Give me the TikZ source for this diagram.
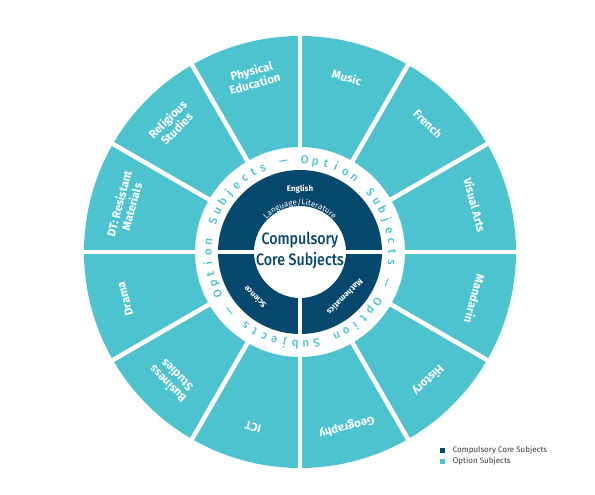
\documentclass[tikz,border=0pt]{standalone}
\usepackage{fontspec}
\setmainfont{Fira Sans}
\newfontfamily\medfont{Fira Sans Medium}
\newfontfamily\centrefont[FakeStretch=0.86]{Fira Sans Medium}
\usepackage{tikz}
\usetikzlibrary{positioning}
\usetikzlibrary{decorations.text}

\definecolor{coreblue}{HTML}{05476D}
\definecolor{optteal}{HTML}{4DC3CF}
\definecolor{keygray}{HTML}{3A3A3A}

\begin{document}
\begin{tikzpicture}[x=1pt, y=1pt,
    optlabel/.style={text=white, font=\bfseries\fontsize{11.5}{13}\selectfont, align=center},
    corelabel/.style={text=white, font=\bfseries\fontsize{8}{9}\selectfont},
    ringletter/.style={text=optteal, font=\medfont\fontsize{11.5}{12}\selectfont, anchor=base, inner sep=0pt},
    gap/.style={white, line width=4.5pt},
    keybox/.style={minimum size=5pt, inner sep=0pt},
    keytext/.style={text=keygray, font=\fontsize{8}{9}\selectfont, inner sep=0pt}]
    \useasboundingbox (-300,-243) rectangle (295,252);

    % option subjects: twelve sectors
    \foreach \i [evaluate=\i as \a using \i*30, evaluate=\i as \b using \i*30+30] in {0,...,11}
        \fill[optteal] (\a:105) arc[start angle=\a, end angle=\b, radius=105]
            -- (\b:216) arc[start angle=\b, end angle=\a, radius=216] -- cycle;
    \foreach \a in {0,30,...,330}
        \draw[gap] (\a:100) -- (\a:220);

    % compulsory core ring
    \fill[coreblue, even odd rule] (0,0) circle (82) (0,0) circle (46);
    \draw[gap] (-86,0) -- (86,0);
    \draw[gap] (0,0) -- (0,-86);

    \foreach \a/\txt/\nm in {75/Music/music, 45/French/french, 15/Visual Arts/visual,
        -15/Mandarin/mandarin, -45/History/history, -75/Geography/geography,
        -105/ICT/ict, -135/{Business\\Studies}/business, -165/Drama/drama,
        165/{DT: Resistant\\Materials}/dt, 135/{Religious\\Studies}/religious,
        105/{Physical\\Education}/pe}
        \node[optlabel, rotate=\a-90] (\nm) at (\a:181) {\txt};

    % lettering round the white ring
    \foreach \r in {0,1,2}
        \foreach \ch [count=\k] in {O,p,t,i,o,n,{},S,u,b,j,e,c,t,s,{},\textemdash,{}}
        {
            \pgfmathsetmacro{\ang}{87-(\r*18+\k-1)*20/3}
            \node[ringletter, rotate=\ang-90] (ring-\r-\k) at (\ang:88.5) {\ch};
        }

    \node[corelabel] (english) at (0,63) {English};
    \path[decorate, decoration={text along path, text align=center, text color=white,
        text={|\fontsize{8}{8}\selectfont|Language/Literature}}]
        (142:47) arc[start angle=142, end angle=38, radius=47];
    \node[corelabel, rotate=135] (science) at (225:64) {Science};
    \node[corelabel, rotate=-135] (maths) at (-45:64) {Mathematics};

    \node[text=coreblue, font=\centrefont\fontsize{16.5}{21}\selectfont, align=center] (core) at (0,1)
        {Compulsory\\Core Subjects};

    % key
    \node[keybox, fill=coreblue] (keycore) at (142.5,-198.5) {};
    \node[keybox, fill=optteal] (keyopt) at (142.5,-209.5) {};
    \node[keytext, right=7.5pt of keycore] (keycoretext) {Compulsory Core Subjects};
    \node[keytext, right=7.5pt of keyopt] (keyopttext) {Option Subjects};
\end{tikzpicture}
\end{document}
